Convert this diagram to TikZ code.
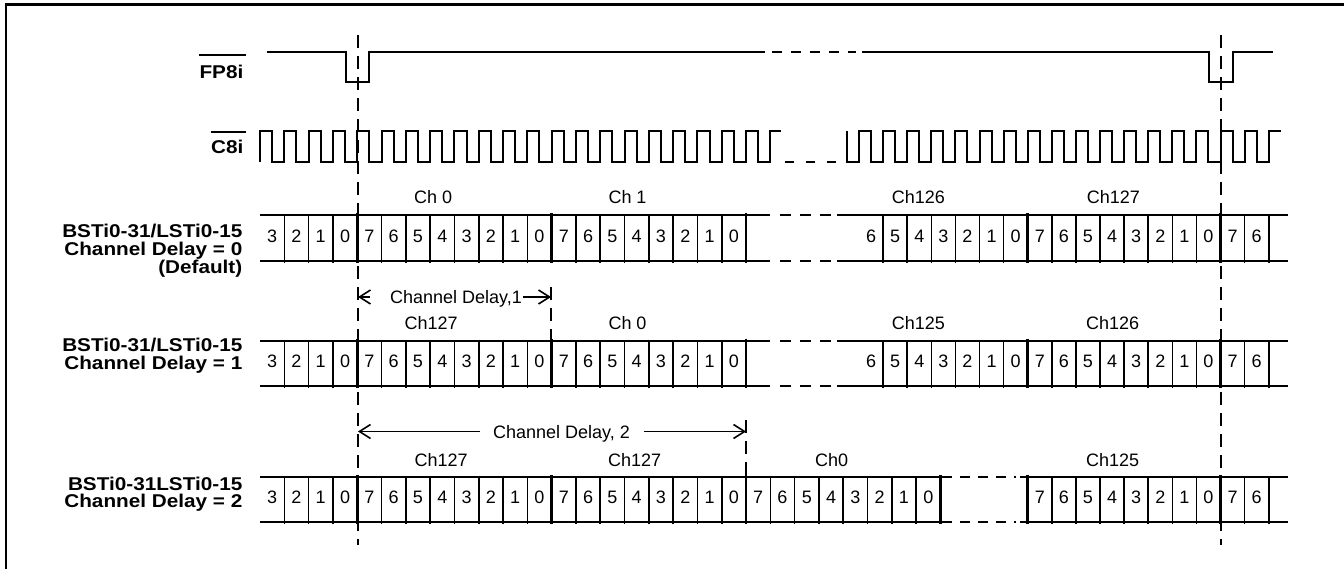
\documentclass[tikz,border=0pt]{standalone}
\usepackage{fontspec}
\setmainfont{Liberation Sans}
\newfontfamily\lblfont{Liberation Sans}[FakeStretch=1.12]
\usetikzlibrary{arrows.meta}
% rows with the break between byte 20 (left grid) and the right grid
\newcommand\tdrowA[2]{%
  \draw[hl] (260,#1) -- (770,#1) (837,#1) -- (1288,#1) (260,#2) -- (770,#2) (837,#2) -- (1288,#2);
  \draw[hl,rowdash] (780,#1) -- (832,#1) (780,#2) -- (832,#2);
  \foreach \k in {1,2,3,5,6,7,8,9,10,11,13,14,15,16,17,18,19}
    \draw[thinv] ({260+24.3*\k},#1) -- ({260+24.3*\k},{#2+2});
  \foreach \k in {4,12,20}
    \draw[bytev] ({260+24.3*\k},{#1-2}) -- ({260+24.3*\k},{#2+2});
  \foreach \k in {1,2,3,4,5,6,8,9,10,11,12,13,14,16,17}
    \draw[thinv] ({859+24.1*\k},#1) -- ({859+24.1*\k},{#2+2});
  \foreach \k in {7,15}
    \draw[bytev] ({859+24.1*\k},{#1-2}) -- ({859+24.1*\k},{#2+2});
}
% digits: #1 name prefix, #2 x0, #3 pitch, #4 y, #5 list
\newcommand\tddigits[5]{%
  \foreach \d [count=\k from 0] in {#5}
    \node[txt] (#1\k) at ({#2+#3*\k+#3/2},#4) {\d};
}
\begin{document}
\begin{tikzpicture}[x=1pt,y=-1pt,
  frameline/.style={line width=2.6pt},
  sig/.style={line width=2pt,line join=miter},
  hl/.style={line width=2pt},
  rowdash/.style={dash pattern=on 11pt off 9pt},
  thinv/.style={line width=1.6pt},
  bytev/.style={line width=2.8pt},
  vdash/.style={line width=2pt,dash pattern=on 13pt off 8pt},
  lbl/.style={font=\lblfont\bfseries\fontsize{18.5}{18.5}\selectfont,inner sep=0pt},
  txt/.style={font=\fontsize{18}{20}\selectfont,inner sep=0pt},
  ovl/.style={line width=2pt},
  arr/.style={line width=1.6pt,-{Straight Barb[length=11pt,width=14pt]}},
]
\useasboundingbox (0,0) rectangle (1344,569);

% frame
\draw[frameline] (6,569) -- (6,4.7) -- (1344,4.7);

% frame-sync marker lines
\draw[vdash] (357.5,35) -- (357.5,545);
\draw[vdash] (1220.5,35) -- (1220.5,545);

% FP8i
\node[lbl,anchor=base east] (fp) at (243.5,78.5) {FP8i};
\draw[ovl] ([yshift=10pt]fp.north west) -- ([xshift=2pt,yshift=10pt]fp.north east);
\draw[sig] (266.7,52) -- (346,52) -- (346,82) -- (369.4,82) -- (369.4,52) -- (765,52);
\draw[sig,dash pattern=on 10pt off 9pt] (772,52) -- (856,52);
\draw[sig] (862,52) -- (1208.5,52) -- (1208.5,82) -- (1232.5,82) -- (1232.5,52) -- (1273.3,52);

% C8i
\node[lbl,anchor=base east] (c8) at (243.5,154) {C8i};
\draw[ovl] ([yshift=8.5pt]c8.north west) -- ([xshift=2pt,yshift=8.5pt]c8.north east);
\draw[sig] (260,162) \foreach \k in {0,...,20} { -- ({260+24.3*\k},162) -- ({260+24.3*\k},131) -- ({272.15+24.3*\k},131) -- ({272.15+24.3*\k},162) } -- (770.3,162) -- (770.3,131) -- (781,131);
\draw[sig,dash pattern=on 9pt off 12pt] (785,162) -- (836,162);
\draw[sig] (847,131) -- (847,162) \foreach \k in {0,...,16} { -- ({859+24.1*\k},162) -- ({859+24.1*\k},131) -- ({871.05+24.1*\k},131) -- ({871.05+24.1*\k},162) } -- (1268.7,162) -- (1268.7,131) -- (1281,131);

% ---------- Row 1: Channel Delay = 0 ----------
\node[lbl,anchor=base east] (r1a) at (242.5,237.7) {BSTi0-31/LSTi0-15};
\node[lbl,anchor=base east] (r1b) at (242.5,255.6) {Channel Delay = 0};
\node[lbl,anchor=base east] (r1c) at (242.5,273.5) {(Default)};
\tdrowA{215.5}{261}
\tddigits{r1l}{260}{24.3}{236.7}{3,2,1,0,7,6,5,4,3,2,1,0,7,6,5,4,3,2,1,0}
\tddigits{r1r}{859}{24.1}{236.7}{6,5,4,3,2,1,0,7,6,5,4,3,2,1,0,7,6}
\node[txt,anchor=base west] (r1ch0) at (414,204) {Ch 0};
\node[txt,anchor=base west] (r1ch1) at (608.3,204) {Ch 1};
\node[txt,anchor=base west] (r1ch126) at (891.7,204) {Ch126};
\node[txt,anchor=base west] (r1ch127) at (1086.7,204) {Ch127};

% ---------- Delay 1 annotation ----------
\node[txt,anchor=base west] (d1) at (390,303.5) {Channel Delay,1};
\coordinate (d1s) at (370,297);
\coordinate (d1a) at (358,297);
\coordinate (d1t) at (523.3,297);
\coordinate (d1b) at (551,297);
\draw[arr] (d1s) -- (d1a);
\draw[arr] (d1t) -- (d1b);
\coordinate (m1top) at (551,287);
\coordinate (m1bot) at (551,340);
\draw[vdash] (m1top) -- (m1bot);

% ---------- Row 2: Channel Delay = 1 ----------
\node[lbl,anchor=base east] (r2a) at (242.5,351.7) {BSTi0-31/LSTi0-15};
\node[lbl,anchor=base east] (r2b) at (242.5,369.7) {Channel Delay = 1};
\tdrowA{340.7}{385.7}
\tddigits{r2l}{260}{24.3}{361.7}{3,2,1,0,7,6,5,4,3,2,1,0,7,6,5,4,3,2,1,0}
\tddigits{r2r}{859}{24.1}{361.7}{6,5,4,3,2,1,0,7,6,5,4,3,2,1,0,7,6}
\node[txt,anchor=base west] (r2ch127) at (404.3,329.5) {Ch127};
\node[txt,anchor=base west] (r2ch0) at (608.3,329.5) {Ch 0};
\node[txt,anchor=base west] (r2ch125) at (891.7,329.5) {Ch125};
\node[txt,anchor=base west] (r2ch126) at (1086,329.5) {Ch126};

% ---------- Delay 2 annotation ----------
\node[txt,anchor=base west] (d2) at (492.9,438) {Channel Delay, 2};
\coordinate (d2s) at (480,431.5);
\coordinate (d2a) at (358,431.5);
\coordinate (d2t) at (643.6,431.5);
\coordinate (d2b) at (746,431.5);
\draw[arr] (d2s) -- (d2a);
\draw[arr] (d2t) -- (d2b);
\coordinate (m2top) at (746,420);
\coordinate (m2bot) at (746,476);
\draw[vdash] (m2top) -- (m2bot);

% ---------- Row 3: Channel Delay = 2 ----------
\node[lbl,anchor=base east] (r3a) at (242.5,490) {BSTi0-31LSTi0-15};
\node[lbl,anchor=base east] (r3b) at (242.5,507.7) {Channel Delay = 2};
\draw[hl] (260,476.7) -- (952,476.7) (1020,476.7) -- (1288,476.7) (260,521.7) -- (952,521.7) (1020,521.7) -- (1288,521.7);
\draw[hl,dash pattern=on 10pt off 8pt] (960,476.7) -- (1016,476.7) (960,521.7) -- (1016,521.7);
\foreach \k in {1,2,3,5,6,7,8,9,10,11,13,14,15,16,17,18,19,21,22,23,24,25,26,27}
  \draw[thinv] ({260+24.3*\k},476.7) -- ({260+24.3*\k},523.7);
\foreach \k in {4,12,20,28}
  \draw[bytev] ({260+24.3*\k},474.7) -- ({260+24.3*\k},523.7);
\foreach \k in {8,9,10,11,12,13,14,16,17}
  \draw[thinv] ({859+24.1*\k},476.7) -- ({859+24.1*\k},523.7);
\foreach \k in {7,15}
  \draw[bytev] ({859+24.1*\k},474.7) -- ({859+24.1*\k},523.7);
\tddigits{r3l}{260}{24.3}{497.7}{3,2,1,0,7,6,5,4,3,2,1,0,7,6,5,4,3,2,1,0,7,6,5,4,3,2,1,0}
\tddigits{r3r}{1027.7}{24.1}{497.7}{7,6,5,4,3,2,1,0,7,6}
\node[txt,anchor=base west] (r3ch127a) at (414.3,466.5) {Ch127};
\node[txt,anchor=base west] (r3ch127b) at (607.9,466.5) {Ch127};
\node[txt,anchor=base west] (r3ch0) at (815,466.5) {Ch0};
\node[txt,anchor=base west] (r3ch125) at (1086,466.5) {Ch125};
\end{tikzpicture}
\end{document}
